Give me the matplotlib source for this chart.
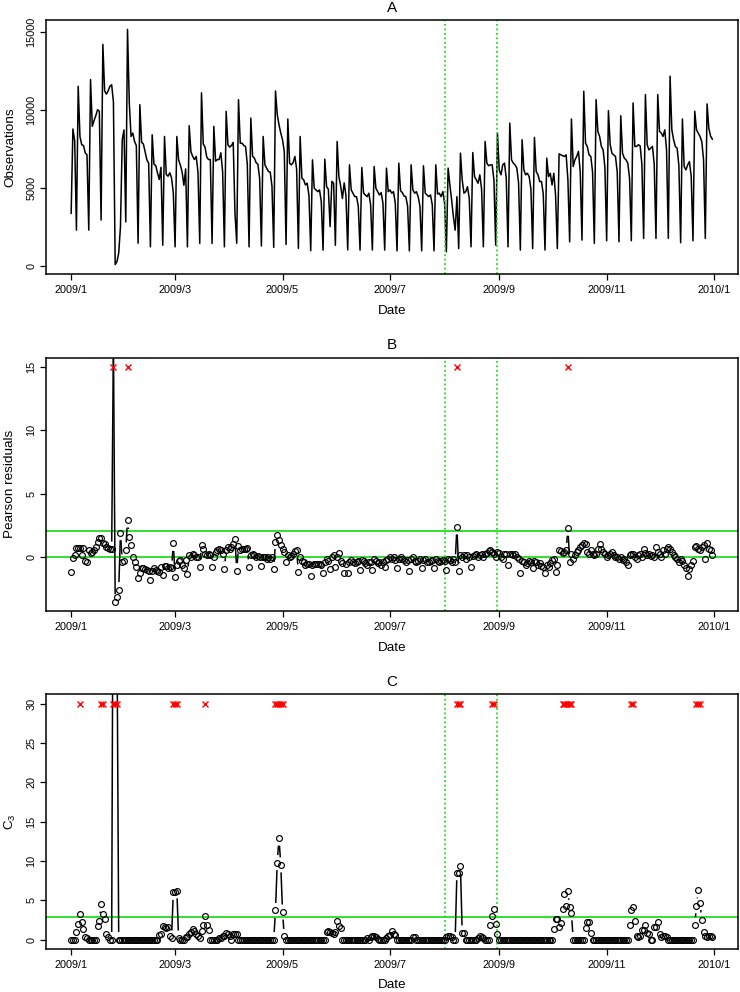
import numpy as np
import pandas as pd
import matplotlib
matplotlib.use("Agg")
import matplotlib.pyplot as plt
import matplotlib.dates as mdates
from matplotlib.collections import LineCollection

plt.rcParams['font.family'] = ['Liberation Sans', 'DejaVu Sans']
plt.rcParams['mathtext.fontset'] = 'custom'
plt.rcParams['mathtext.rm'] = 'Liberation Sans'

# daily observations 2009, one row per week (Mon..Sun), first row starts Thu 1 Jan
obs_weeks = [
    [3350, 8760, 8000, 2270],
    [11500, 8280, 7750, 7700, 7230, 7100, 2270],
    [11930, 8930, 9300, 9620, 10000, 9900, 2920],
    [14190, 11200, 11000, 11200, 11500, 11600, 10500],
    [60, 250, 800, 2500, 8070, 8700, 2800],
    [15150, 10450, 8280, 8500, 7960, 7700, 1430],
    [10320, 7900, 7800, 7300, 6780, 6570, 1200],
    [8390, 6500, 6420, 5950, 5520, 6300, 1300],
    [8280, 5840, 5730, 5950, 5620, 4650, 1200],
    [8280, 6780, 6440, 6000, 5150, 6200, 1200],
    [8970, 7300, 7000, 6800, 7000, 6000, 1420],
    [11080, 7800, 7590, 6950, 6800, 6800, 1420],
    [8930, 6700, 6800, 6800, 7230, 6000, 1200],
    [9890, 7750, 7600, 7700, 7900, 3370, 1430],
    [10640, 7850, 7850, 7700, 7640, 6500, 1200],
    [9460, 7000, 6900, 6600, 6500, 5600, 1250],
    [8280, 6460, 6250, 6030, 6000, 5100, 1160],
    [11200, 9680, 9030, 8500, 8070, 7300, 1350],
    [9400, 6570, 6460, 6600, 7000, 6200, 1100],
    [8280, 5600, 5500, 5170, 5280, 4500, 950],
    [6780, 4960, 4850, 4740, 4850, 4100, 990],
    [6820, 5060, 4900, 2500, 5400, 5280, 1300],
    [7960, 5700, 5100, 4300, 5300, 4500, 1000],
    [6460, 4850, 4640, 4420, 4420, 3800, 990],
    [6290, 4640, 4530, 4420, 4640, 3900, 990],
    [6350, 4960, 4740, 4530, 4680, 4000, 990],
    [6250, 4740, 4850, 4640, 4740, 4000, 940],
    [6570, 4800, 4680, 4460, 4420, 3800, 940],
    [6460, 4850, 4640, 4740, 4420, 3800, 940],
    [6400, 4640, 4530, 4420, 4530, 3900, 940],
    [6460, 4590, 4640, 4420, 4740, 4000, 880],
    [6250, 5170, 4200, 3130, 2270, 4420, 1090],
    [7210, 5490, 4640, 4740, 5060, 4300, 1200],
    [7250, 5710, 5490, 5280, 5820, 4900, 1200],
    [7960, 6570, 6400, 6460, 6460, 5500, 1310],
    [8500, 6140, 5820, 6460, 6570, 5600, 1200],
    [9140, 6780, 6570, 6460, 6250, 5300, 990],
    [8070, 6140, 5820, 5920, 5710, 4900, 1090],
    [8220, 6030, 5820, 5390, 5390, 4600, 990],
    [6890, 5710, 5920, 5170, 5920, 4500, 1090],
    [7170, 7100, 7050, 7000, 7100, 5500, 1520],
    [9400, 6350, 6780, 7000, 7320, 6000, 1630],
    [11180, 7850, 7640, 7100, 7000, 6000, 1420],
    [10640, 8600, 8280, 7640, 7420, 6300, 1590],
    [9940, 7750, 7210, 7100, 7000, 6000, 1520],
    [9610, 7210, 6890, 6780, 6570, 5600, 1590],
    [10430, 7640, 7640, 7750, 7680, 6500, 1740],
    [10970, 7750, 7420, 7530, 7640, 6500, 1740],
    [10970, 8600, 8500, 8280, 8710, 7400, 1740],
    [12150, 8710, 8070, 7640, 7530, 6400, 1460],
    [9400, 6350, 6140, 6460, 6670, 5700, 1590],
    [9900, 8710, 8500, 8280, 7960, 6800, 1740],
    [10370, 8800, 8300, 8110],
]

# Pearson residuals, same week layout
resid_weeks = [
    [-1.18, -0.1, 0.1, 0.7],
    [0.7, 0.7, 0.15, 0.7, -0.3, -0.4, 0.5],
    [0.3, 0.4, 0.5, 0.8, 1.2, 1.45, 1.5],
    [1.1, 1.0, 0.8, 0.7, 0.6, 0.6, 17.0],
    [-3.55, -3.2, -2.6, 1.9, -0.4, -0.3, 0.55],
    [2.9, 1.6, 0.9, 0.0, -0.4, -0.8, -1.7],
    [-1.3, -0.9, -0.9, -1.0, -1.05, -1.1, -1.85],
    [-1.1, -0.9, -1.05, -1.1, -1.2, -0.8, -1.45],
    [-0.75, -0.75, -0.9, -0.8, -0.9, 1.05, -1.6],
    [-0.65, -0.3, -0.25, -0.65, -0.9, -0.25, -1.35],
    [0.1, 0.0, 0.25, 0.1, 0.0, -0.05, -0.8],
    [0.9, 0.65, 0.25, 0.15, 0.25, 0.1, -0.85],
    [0.0, 0.4, 0.5, 0.6, 0.5, 0.25, -0.95],
    [0.5, 0.8, 0.65, 0.75, 1.0, 1.4, -1.1],
    [0.85, 0.5, 0.6, 0.65, 0.6, 0.7, -0.8],
    [0.15, 0.2, 0.15, 0.0, 0.05, -0.05, -0.75],
    [0.0, -0.05, -0.15, -0.05, -0.15, -0.05, -1.0],
    [1.2, 1.7, 1.3, 0.9, 0.65, 0.4, -0.4],
    [0.1, -0.05, 0.05, 0.25, 0.45, 0.5, -1.2],
    [-0.05, -0.3, -0.45, -0.65, -0.6, -0.55, -1.5],
    [-0.65, -0.55, -0.6, -0.55, -0.55, -0.65, -1.3],
    [-0.4, -0.2, -0.3, -1.0, -0.05, 0.15, -0.8],
    [-0.05, 0.3, -0.3, -0.5, -1.3, -0.6, -1.3],
    [-0.45, -0.25, -0.4, -0.5, -0.45, -0.3, -1.05],
    [-0.25, -0.3, -0.5, -0.65, -0.45, -0.4, -1.05],
    [-0.2, -0.3, -0.5, -0.4, -0.65, -0.4, -0.85],
    [-0.25, -0.15, -0.05, -0.2, -0.05, -0.25, -0.9],
    [-0.2, -0.05, -0.2, -0.25, -0.4, -0.25, -1.1],
    [-0.15, -0.05, -0.3, -0.45, -0.3, -0.2, -0.9],
    [-0.25, -0.2, -0.4, -0.45, -0.3, -0.25, -0.9],
    [-0.2, -0.3, -0.4, -0.3, -0.25, -0.3, -1.05],
    [-0.2, -0.25, -0.4, -0.2, -0.4, 2.35, -1.1],
    [0.15, -0.05, 0.15, -0.15, 0.1, -0.05, -0.8],
    [0.05, 0.15, 0.2, 0.0, 0.15, 0.25, 0.0],
    [0.25, 0.3, 0.45, 0.5, 0.4, 0.25, -0.05],
    [0.4, 0.3, 0.0, -0.2, 0.25, 0.25, -0.65],
    [0.25, 0.25, 0.15, 0.2, -0.05, -0.2, -1.3],
    [-0.3, -0.45, -0.65, -0.5, -0.3, -0.4, -0.9],
    [-0.3, -0.45, -0.65, -0.5, -0.75, -0.85, -1.3],
    [-0.65, -0.85, -0.5, -0.25, -0.2, -1.2, -0.65],
    [0.5, 0.45, 0.3, 0.4, 0.5, 2.25, -0.4],
    [0.25, -0.15, 0.1, 0.4, 0.5, 0.8, 0.9],
    [1.1, 1.0, 0.4, 0.25, 0.5, 0.25, 0.1],
    [0.25, 0.6, 1.0, 0.65, 0.4, 0.25, -0.05],
    [0.15, 0.25, 0.4, 0.15, -0.05, 0.0, -0.2],
    [-0.05, -0.25, -0.2, -0.4, -0.65, 0.15, 0.2],
    [0.25, -0.05, -0.15, 0.15, 0.25, 0.0, 0.65],
    [0.3, 0.15, 0.25, 0.05, 0.15, -0.05, 0.8],
    [0.4, 0.25, -0.05, 0.5, 0.25, 0.65, 0.8],
    [0.6, 0.4, 0.15, -0.05, -0.2, -0.4, -0.15],
    [-0.3, -0.65, -0.9, -1.5, -1.0, -0.65, -0.3],
    [0.8, 0.85, 0.65, 0.5, 0.75, 0.9, -0.15],
    [1.1, 0.65, 0.5, 0.15],
]

# C3 statistic, same week layout
c3_weeks = [
    [0, 0, 0, 1.0],
    [2.0, 3.2, 2.2, 1.4, 0.3, 0.2, 0],
    [0, 0, 0, 0, 1.7, 2.4, 4.5],
    [3.2, 2.6, 0.7, 0.3, 0, 0, 62],
    [48, 40, 0, 0, 0, 0, 0],
    [0, 0, 0, 0, 0, 0, 0],
    [0, 0, 0, 0, 0, 0, 0],
    [0, 0, 0, 0, 0.6, 0.7, 1.7],
    [1.6, 1.5, 1.6, 0.5, 0.2, 6.0, 6.0],
    [6.2, 0.2, 0, 0, 0, 0.3, 0.3],
    [0.7, 0.9, 1.3, 1.1, 0.7, 0.5, 0.2],
    [1.1, 1.8, 3.0, 1.8, 1.2, 0, 0],
    [0, 0, 0, 0.2, 0.2, 0.4, 0.5],
    [0.8, 0.7, 0.5, 0, 0.7, 0.7, 0.7],
    [0, 0, 0, 0, 0, 0, 0],
    [0, 0, 0, 0, 0, 0, 0],
    [0, 0, 0, 0, 0, 0, 0],
    [3.7, 9.8, 12.9, 9.5, 3.5, 0.4, 0],
    [0, 0, 0, 0, 0, 0, 0],
    [0, 0, 0, 0, 0, 0, 0],
    [0, 0, 0, 0, 0, 0, 0],
    [0, 1.0, 1.1, 1.0, 0.8, 0.7, 0.9],
    [2.3, 1.7, 1.5, 0, 0, 0, 0],
    [0, 0, 0, 0, 0, 0, 0],
    [0, 0, 0, 0.2, 0, 0.3, 0.5],
    [0.4, 0.3, 0.1, 0, 0, 0, 0],
    [0.2, 0.5, 0.6, 1.15, 0.7, 0.6, 0],
    [0, 0, 0, 0, 0, 0, 0],
    [0, 0.3, 0.3, 0, 0, 0, 0],
    [0, 0, 0, 0, 0, 0, 0],
    [0, 0, 0, 0, 0, 0, 0.3],
    [0.4, 0.4, 0.3, 0, 0, 8.5, 8.5],
    [9.3, 0.85, 0.85, 0, 0, 0, 0],
    [0, 0, 0, 0.2, 0.4, 0.3, 0.2],
    [0, 0, 0, 1.8, 3.0, 3.9, 2.0],
    [0.7, 0, 0, 0, 0, 0, 0],
    [0, 0, 0, 0, 0, 0, 0],
    [0, 0, 0, 0, 0, 0, 0],
    [0, 0, 0, 0, 0, 0, 0],
    [0, 0, 0, 0, 1.4, 2.6, 2.6],
    [1.6, 2.1, 3.9, 5.8, 4.3, 6.2, 4.1],
    [3.4, 0, 0, 0, 0, 0, 0],
    [0, 1.5, 2.2, 2.2, 0.8, 0, 0],
    [0, 0, 0, 0, 0, 0, 0],
    [0, 0, 0, 0, 0, 0, 0],
    [0, 0, 0, 0, 0, 1.8, 3.7],
    [4.2, 2.3, 0.5, 0.3, 0.4, 1.2, 1.2],
    [1.9, 0.85, 0.7, 0, 0, 1.6, 1.6],
    [2.2, 0.7, 0.3, 0.5, 0.4, 0.3, 0],
    [0, 0, 0, 0, 0, 0, 0],
    [0, 0, 0, 0, 0, 0, 0],
    [1.9, 4.3, 6.3, 4.7, 2.5, 0.9, 0.5],
    [0.3, 0.5, 0.4, 0.3],
]

resid_limit = 2.0
c3_limit = 2.85
period = ['2009-08-01', '2009-08-31']
tick_dates = ['2009-01-01', '2009-03-01', '2009-05-01', '2009-07-01',
              '2009-09-01', '2009-11-01', '2010-01-01']
tick_labels = ['2009/1', '2009/3', '2009/5', '2009/7', '2009/9', '2009/11', '2010/1']

obs = np.array([v for w in obs_weeks for v in w], dtype=float)
resid = np.array([v for w in resid_weeks for v in w], dtype=float)
c3 = np.array([v for w in c3_weeks for v in w], dtype=float)
dates = pd.date_range('2009-01-01', periods=len(obs), freq='D')
xnum = mdates.date2num(dates)

GREEN = '#22dd22'
W, H = 740, 992
fig = plt.figure(figsize=(W / 100, H / 100), dpi=100)


def make_axes(top, bottom):
    ax = fig.add_axes([45.5 / W, 1 - bottom / H, (738 - 45.5) / W, (bottom - top) / H])
    pad = 0.04 * (xnum[-1] - xnum[0])
    ax.set_xlim(xnum[0] - pad, xnum[-1] + pad)
    ax.set_xticks(mdates.date2num(pd.to_datetime(tick_dates)))
    ax.set_xticklabels(tick_labels)
    ax.tick_params(direction='out', length=4.5, width=0.9, labelsize=7.8, pad=3.2)
    ax.tick_params(axis='y', labelrotation=90, pad=2.2)
    for lab in ax.get_yticklabels():
        lab.set_va('center')
    for s in ax.spines.values():
        s.set_linewidth(1.1)
    return ax


def r_range(lo, hi):
    p = 0.04 * (hi - lo)
    return lo - p, hi + p


def period_lines(ax):
    for d in period:
        ax.axvline(mdates.date2num(pd.Timestamp(d)), color=GREEN, lw=1.3, ls=(0, (1, 1.5)))


def type_b(ax, x, y, gap=7.5):
    # R style type="b": lines between points, cut short around each point
    pts = ax.transData.transform(np.column_stack([x, y]))
    inv = ax.transData.inverted()
    segs = []
    for p0, p1 in zip(pts[:-1], pts[1:]):
        v = p1 - p0
        L = np.hypot(v[0], v[1])
        if L > 2 * gap:
            u = v / L
            segs.append(inv.transform([p0 + u * gap, p1 - u * gap]))
    ax.add_collection(LineCollection(segs, colors='black', linewidths=1.1))
    ax.plot(x, y, 'o', ms=4.2, mfc='none', mec='black', mew=0.85)


def labels(ax, title, ylab, title_y, date_y):
    cx = (45.5 + 738) / 2 / W
    fig.text(cx, 1 - title_y / H, title, ha='center', va='center', fontsize=11)
    fig.text(cx, 1 - date_y / H, 'Date', ha='center', va='center', fontsize=9.7)
    pos = ax.get_position()
    fig.text(10 / W, (pos.y0 + pos.y1) / 2, ylab, rotation=90, ha='center', va='center',
             fontsize=9.7)


# A
axA = make_axes(20, 274)
axA.set_ylim(*r_range(obs.min(), obs.max()))
axA.set_yticks([0, 5000, 10000, 15000])
axA.plot(xnum, obs, color='black', lw=1.1)
period_lines(axA)
labels(axA, 'A', 'Observations', 8.5, 311.5)

# B
axB = make_axes(357.7, 611)
axB.set_ylim(*r_range(resid.min(), 15))
axB.set_yticks([0, 5, 10, 15])
axB.axhline(0, color=GREEN, lw=1.3)
axB.axhline(resid_limit, color=GREEN, lw=1.3)
period_lines(axB)
type_b(axB, xnum, resid)
hit = resid > resid_limit
axB.plot(xnum[hit], np.full(hit.sum(), 15.0), 'x', color='red', ms=4.0, mew=1.0)
labels(axB, 'B', 'Pearson residuals', 345, 648)

# C
axC = make_axes(694.3, 949)
axC.set_ylim(*r_range(0, 30))
axC.set_yticks([0, 5, 10, 15, 20, 25, 30])
axC.axhline(c3_limit, color=GREEN, lw=1.3)
period_lines(axC)
type_b(axC, xnum, c3)
hit = c3 > c3_limit
axC.plot(xnum[hit], np.full(hit.sum(), 30.0), 'x', color='red', ms=4.0, mew=1.0)
labels(axC, 'C', r'$\mathregular{C_3}$', 682.5, 985)

fig.savefig('out.png', dpi=100)
